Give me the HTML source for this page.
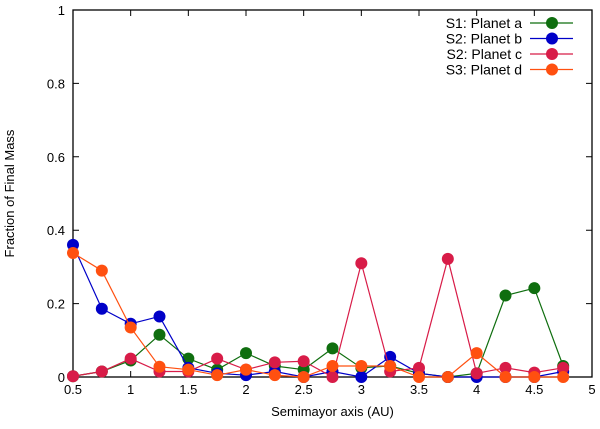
<!DOCTYPE html>
<html><head><meta charset="utf-8"><style>
body{margin:0;background:#fff}
svg{display:block;font-family:"Liberation Sans",sans-serif}
</style></head><body>
<svg id="c" width="600" height="429"></svg>
<script>
const xs=[0.5,0.75,1,1.25,1.5,1.75,2,2.25,2.5,2.75,3,3.25,3.5,3.75,4,4.25,4.5,4.75];
const planetA=[0.002,0.015,0.045,0.115,0.05,0.02,0.065,0.03,0.02,0.078,0.025,0.03,0.01,0,0.01,0.222,0.242,0.03];
const planetB=[0.36,0.186,0.145,0.165,0.025,0.01,0.005,0.015,0,0.015,0,0.055,0.01,0,0,0,0,0.015];
const planetC=[0.002,0.015,0.05,0.015,0.015,0.05,0.02,0.04,0.043,0,0.31,0.015,0.025,0.322,0.01,0.025,0.012,0.025];
const planetD=[0.338,0.29,0.135,0.028,0.02,0.005,0.02,0.005,0,0.03,0.03,0.03,0,0,0.065,0,0,0];
const xTicks=["0.5","1","1.5","2","2.5","3","3.5","4","4.5","5"];
const yTicks=["0","0.2","0.4","0.6","0.8","1"];
const seriesNames=["S1: Planet a","S2: Planet b","S2: Planet c","S3: Planet d"];
const L=73,R=592,T=10,B=377;
const X=v=>L+(v-0.5)/4.5*(R-L);
const Y=v=>B-v*(B-T);
const svg=document.getElementById('c');
const NS='http://www.w3.org/2000/svg';
function mk(t,a,p){const e=document.createElementNS(NS,t);for(const k in a)e.setAttribute(k,a[k]);(p||svg).appendChild(e);return e;}
xTicks.forEach(t=>{const v=parseFloat(t),x=X(v);
const l=mk('path',{d:`M${x},${B}v-6M${x},${T}v6`,stroke:'#000','stroke-width':1});


const s=mk('text',{x:x,y:B+17,'text-anchor':'middle','font-size':13});s.textContent=t;

});
yTicks.forEach(t=>{const v=parseFloat(t),y=Y(v);
const l=mk('path',{d:`M${L},${y}h6M${R},${y}h-6`,stroke:'#000','stroke-width':1});


const s=mk('text',{x:L-8,y:y+5,'text-anchor':'end','font-size':13});s.textContent=t;

});
const fr=mk('rect',{x:L,y:T,width:R-L,height:B-T,fill:'none',stroke:'#000','stroke-width':1.3});


const xt=mk('text',{x:(L+R)/2,y:416,'text-anchor':'middle','font-size':13});xt.textContent='Semimayor axis (AU)';


const yt=mk('text',{x:0,y:0,'text-anchor':'middle','font-size':13,transform:`translate(14,${(T+B)/2}) rotate(-90)`});yt.textContent='Fraction of Final Mass';


const data=[planetA,planetB,planetC,planetD];
const cols=['#0f6e0f','#0000c8','#d81c48','#ff5010'];
const keys=['planet-a','planet-b','planet-c','planet-d'];
data.forEach((d,i)=>{
const g=mk('g',{});


const pl=mk('polyline',{points:d.map((v,j)=>X(xs[j])+','+Y(v)).join(' '),fill:'none',stroke:cols[i],'stroke-width':1.2},g);


d.forEach((v,j)=>{const c=mk('circle',{cx:X(xs[j]),cy:Y(v),r:6,fill:cols[i]},g);

});
const ly=23+i*15.5;
const lt=mk('text',{x:522,y:ly+5,'text-anchor':'end','font-size':14},g);lt.textContent=seriesNames[i];


const ll=mk('path',{d:`M530,${ly}h43`,stroke:cols[i],'stroke-width':1.2},g);


const lc=mk('circle',{cx:552,cy:ly,r:6,fill:cols[i]},g);


});
</script>
</body></html>
